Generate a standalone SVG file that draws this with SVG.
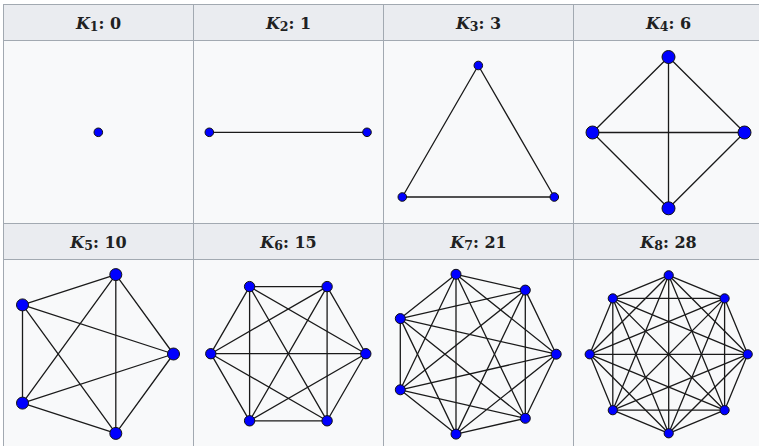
<svg xmlns="http://www.w3.org/2000/svg" width="759" height="446" viewBox="0 0 759 446">
<style>
.hd{fill:#eaecf0;stroke:#a2a9b1;stroke-width:1}
.bd{fill:#f8f9fa;stroke:#a2a9b1;stroke-width:1}
.t{font-family:"DejaVu Serif","Liberation Serif",serif;font-weight:bold;font-size:16px;fill:#202122;text-anchor:middle}
.e line{stroke:#1a1a1a;stroke-width:1.3;stroke-linecap:round}
.n circle{fill:#0000ff;stroke:#111;stroke-width:1}
</style>
<rect x="0" y="0" width="759" height="446" fill="#ffffff"/>
<g id="table">
<rect class="hd" x="3.5" y="4.5" width="190" height="36"/>
<rect class="hd" x="193.5" y="4.5" width="190" height="36"/>
<rect class="hd" x="383.5" y="4.5" width="190" height="36"/>
<rect class="hd" x="573.5" y="4.5" width="190" height="36"/>
<rect class="bd" x="3.5" y="40.5" width="190" height="183"/>
<rect class="bd" x="193.5" y="40.5" width="190" height="183"/>
<rect class="bd" x="383.5" y="40.5" width="190" height="183"/>
<rect class="bd" x="573.5" y="40.5" width="190" height="183"/>
<rect class="hd" x="3.5" y="223.5" width="190" height="36"/>
<rect class="hd" x="193.5" y="223.5" width="190" height="36"/>
<rect class="hd" x="383.5" y="223.5" width="190" height="36"/>
<rect class="hd" x="573.5" y="223.5" width="190" height="36"/>
<rect class="bd" x="3.5" y="259.5" width="190" height="192"/>
<rect class="bd" x="193.5" y="259.5" width="190" height="192"/>
<rect class="bd" x="383.5" y="259.5" width="190" height="192"/>
<rect class="bd" x="573.5" y="259.5" width="190" height="192"/>
</g>
<g id="headers">
<text class="t" x="98.5" y="28.5"><tspan font-style="italic">K</tspan><tspan font-size="12.5" dy="2">1</tspan><tspan dy="-2">: 0</tspan></text>
<text class="t" x="288.5" y="28.5"><tspan font-style="italic">K</tspan><tspan font-size="12.5" dy="2">2</tspan><tspan dy="-2">: 1</tspan></text>
<text class="t" x="478.5" y="28.5"><tspan font-style="italic">K</tspan><tspan font-size="12.5" dy="2">3</tspan><tspan dy="-2">: 3</tspan></text>
<text class="t" x="668.5" y="28.5"><tspan font-style="italic">K</tspan><tspan font-size="12.5" dy="2">4</tspan><tspan dy="-2">: 6</tspan></text>
<text class="t" x="98.5" y="247.5"><tspan font-style="italic">K</tspan><tspan font-size="12.5" dy="2">5</tspan><tspan dy="-2">: 10</tspan></text>
<text class="t" x="288.5" y="247.5"><tspan font-style="italic">K</tspan><tspan font-size="12.5" dy="2">6</tspan><tspan dy="-2">: 15</tspan></text>
<text class="t" x="478.5" y="247.5"><tspan font-style="italic">K</tspan><tspan font-size="12.5" dy="2">7</tspan><tspan dy="-2">: 21</tspan></text>
<text class="t" x="668.5" y="247.5"><tspan font-style="italic">K</tspan><tspan font-size="12.5" dy="2">8</tspan><tspan dy="-2">: 28</tspan></text>
</g>
<g id="connectors" class="e">
<line x1="209.3" y1="132.3" x2="367" y2="132.3"/>
<line x1="478.3" y1="65.5" x2="402.3" y2="197"/>
<line x1="478.3" y1="65.5" x2="554.3" y2="197"/>
<line x1="402.3" y1="197" x2="554.3" y2="197"/>
<line x1="668.5" y1="57" x2="592.5" y2="132.5"/>
<line x1="668.5" y1="57" x2="744.5" y2="132.5"/>
<line x1="668.5" y1="57" x2="668.5" y2="208.3"/>
<line x1="592.5" y1="132.5" x2="744.5" y2="132.5"/>
<line x1="592.5" y1="132.5" x2="668.5" y2="208.3"/>
<line x1="744.5" y1="132.5" x2="668.5" y2="208.3"/>
<line x1="173.5" y1="354" x2="115.8" y2="274.6"/>
<line x1="173.5" y1="354" x2="22.5" y2="304.9"/>
<line x1="173.5" y1="354" x2="22.5" y2="403.1"/>
<line x1="173.5" y1="354" x2="115.8" y2="433.4"/>
<line x1="115.8" y1="274.6" x2="22.5" y2="304.9"/>
<line x1="115.8" y1="274.6" x2="22.5" y2="403.1"/>
<line x1="115.8" y1="274.6" x2="115.8" y2="433.4"/>
<line x1="22.5" y1="304.9" x2="22.5" y2="403.1"/>
<line x1="22.5" y1="304.9" x2="115.8" y2="433.4"/>
<line x1="22.5" y1="403.1" x2="115.8" y2="433.4"/>
<line x1="365.8" y1="353.7" x2="327.1" y2="286.6"/>
<line x1="365.8" y1="353.7" x2="249.6" y2="286.6"/>
<line x1="365.8" y1="353.7" x2="210.8" y2="353.7"/>
<line x1="365.8" y1="353.7" x2="249.6" y2="420.8"/>
<line x1="365.8" y1="353.7" x2="327.1" y2="420.8"/>
<line x1="327.1" y1="286.6" x2="249.6" y2="286.6"/>
<line x1="327.1" y1="286.6" x2="210.8" y2="353.7"/>
<line x1="327.1" y1="286.6" x2="249.6" y2="420.8"/>
<line x1="327.1" y1="286.6" x2="327.1" y2="420.8"/>
<line x1="249.6" y1="286.6" x2="210.8" y2="353.7"/>
<line x1="249.6" y1="286.6" x2="249.6" y2="420.8"/>
<line x1="249.6" y1="286.6" x2="327.1" y2="420.8"/>
<line x1="210.8" y1="353.7" x2="249.6" y2="420.8"/>
<line x1="210.8" y1="353.7" x2="327.1" y2="420.8"/>
<line x1="249.6" y1="420.8" x2="327.1" y2="420.8"/>
<line x1="556.2" y1="354.2" x2="525.3" y2="290.1"/>
<line x1="556.2" y1="354.2" x2="456" y2="274.3"/>
<line x1="556.2" y1="354.2" x2="400.3" y2="318.6"/>
<line x1="556.2" y1="354.2" x2="400.3" y2="389.8"/>
<line x1="556.2" y1="354.2" x2="456" y2="434.1"/>
<line x1="556.2" y1="354.2" x2="525.3" y2="418.3"/>
<line x1="525.3" y1="290.1" x2="456" y2="274.3"/>
<line x1="525.3" y1="290.1" x2="400.3" y2="318.6"/>
<line x1="525.3" y1="290.1" x2="400.3" y2="389.8"/>
<line x1="525.3" y1="290.1" x2="456" y2="434.1"/>
<line x1="525.3" y1="290.1" x2="525.3" y2="418.3"/>
<line x1="456" y1="274.3" x2="400.3" y2="318.6"/>
<line x1="456" y1="274.3" x2="400.3" y2="389.8"/>
<line x1="456" y1="274.3" x2="456" y2="434.1"/>
<line x1="456" y1="274.3" x2="525.3" y2="418.3"/>
<line x1="400.3" y1="318.6" x2="400.3" y2="389.8"/>
<line x1="400.3" y1="318.6" x2="456" y2="434.1"/>
<line x1="400.3" y1="318.6" x2="525.3" y2="418.3"/>
<line x1="400.3" y1="389.8" x2="456" y2="434.1"/>
<line x1="400.3" y1="389.8" x2="525.3" y2="418.3"/>
<line x1="456" y1="434.1" x2="525.3" y2="418.3"/>
<line x1="747.7" y1="354.3" x2="724.6" y2="298.4"/>
<line x1="747.7" y1="354.3" x2="668.7" y2="275.3"/>
<line x1="747.7" y1="354.3" x2="612.8" y2="298.4"/>
<line x1="747.7" y1="354.3" x2="589.7" y2="354.3"/>
<line x1="747.7" y1="354.3" x2="612.8" y2="410.2"/>
<line x1="747.7" y1="354.3" x2="668.7" y2="433.3"/>
<line x1="747.7" y1="354.3" x2="724.6" y2="410.2"/>
<line x1="724.6" y1="298.4" x2="668.7" y2="275.3"/>
<line x1="724.6" y1="298.4" x2="612.8" y2="298.4"/>
<line x1="724.6" y1="298.4" x2="589.7" y2="354.3"/>
<line x1="724.6" y1="298.4" x2="612.8" y2="410.2"/>
<line x1="724.6" y1="298.4" x2="668.7" y2="433.3"/>
<line x1="724.6" y1="298.4" x2="724.6" y2="410.2"/>
<line x1="668.7" y1="275.3" x2="612.8" y2="298.4"/>
<line x1="668.7" y1="275.3" x2="589.7" y2="354.3"/>
<line x1="668.7" y1="275.3" x2="612.8" y2="410.2"/>
<line x1="668.7" y1="275.3" x2="668.7" y2="433.3"/>
<line x1="668.7" y1="275.3" x2="724.6" y2="410.2"/>
<line x1="612.8" y1="298.4" x2="589.7" y2="354.3"/>
<line x1="612.8" y1="298.4" x2="612.8" y2="410.2"/>
<line x1="612.8" y1="298.4" x2="668.7" y2="433.3"/>
<line x1="612.8" y1="298.4" x2="724.6" y2="410.2"/>
<line x1="589.7" y1="354.3" x2="612.8" y2="410.2"/>
<line x1="589.7" y1="354.3" x2="668.7" y2="433.3"/>
<line x1="589.7" y1="354.3" x2="724.6" y2="410.2"/>
<line x1="612.8" y1="410.2" x2="668.7" y2="433.3"/>
<line x1="612.8" y1="410.2" x2="724.6" y2="410.2"/>
<line x1="668.7" y1="433.3" x2="724.6" y2="410.2"/>
</g>
<g id="K1-nodes" class="n">
<g id="k1-v1"><circle cx="98.3" cy="132.3" r="4.3"/></g>
</g>
<g id="K2-nodes" class="n">
<g id="k2-v1"><circle cx="209.3" cy="132.3" r="4.3"/></g>
<g id="k2-v2"><circle cx="367" cy="132.3" r="4.3"/></g>
</g>
<g id="K3-nodes" class="n">
<g id="k3-v1"><circle cx="478.3" cy="65.5" r="4.3"/></g>
<g id="k3-v2"><circle cx="402.3" cy="197" r="4.3"/></g>
<g id="k3-v3"><circle cx="554.3" cy="197" r="4.3"/></g>
</g>
<g id="K4-nodes" class="n">
<g id="k4-v1"><circle cx="668.5" cy="57" r="6.5"/></g>
<g id="k4-v2"><circle cx="592.5" cy="132.5" r="6.5"/></g>
<g id="k4-v3"><circle cx="744.5" cy="132.5" r="6.5"/></g>
<g id="k4-v4"><circle cx="668.5" cy="208.3" r="6.5"/></g>
</g>
<g id="K5-nodes" class="n">
<g id="k5-v1"><circle cx="173.5" cy="354" r="6"/></g>
<g id="k5-v2"><circle cx="115.8" cy="274.6" r="6"/></g>
<g id="k5-v3"><circle cx="22.5" cy="304.9" r="6"/></g>
<g id="k5-v4"><circle cx="22.5" cy="403.1" r="6"/></g>
<g id="k5-v5"><circle cx="115.8" cy="433.4" r="6"/></g>
</g>
<g id="K6-nodes" class="n">
<g id="k6-v1"><circle cx="365.8" cy="353.7" r="5.2"/></g>
<g id="k6-v2"><circle cx="327.1" cy="286.6" r="5.2"/></g>
<g id="k6-v3"><circle cx="249.6" cy="286.6" r="5.2"/></g>
<g id="k6-v4"><circle cx="210.8" cy="353.7" r="5.2"/></g>
<g id="k6-v5"><circle cx="249.6" cy="420.8" r="5.2"/></g>
<g id="k6-v6"><circle cx="327.1" cy="420.8" r="5.2"/></g>
</g>
<g id="K7-nodes" class="n">
<g id="k7-v1"><circle cx="556.2" cy="354.2" r="5"/></g>
<g id="k7-v2"><circle cx="525.3" cy="290.1" r="5"/></g>
<g id="k7-v3"><circle cx="456" cy="274.3" r="5"/></g>
<g id="k7-v4"><circle cx="400.3" cy="318.6" r="5"/></g>
<g id="k7-v5"><circle cx="400.3" cy="389.8" r="5"/></g>
<g id="k7-v6"><circle cx="456" cy="434.1" r="5"/></g>
<g id="k7-v7"><circle cx="525.3" cy="418.3" r="5"/></g>
</g>
<g id="K8-nodes" class="n">
<g id="k8-v1"><circle cx="747.7" cy="354.3" r="4.6"/></g>
<g id="k8-v2"><circle cx="724.6" cy="298.4" r="4.6"/></g>
<g id="k8-v3"><circle cx="668.7" cy="275.3" r="4.6"/></g>
<g id="k8-v4"><circle cx="612.8" cy="298.4" r="4.6"/></g>
<g id="k8-v5"><circle cx="589.7" cy="354.3" r="4.6"/></g>
<g id="k8-v6"><circle cx="612.8" cy="410.2" r="4.6"/></g>
<g id="k8-v7"><circle cx="668.7" cy="433.3" r="4.6"/></g>
<g id="k8-v8"><circle cx="724.6" cy="410.2" r="4.6"/></g>
</g>
</svg>
